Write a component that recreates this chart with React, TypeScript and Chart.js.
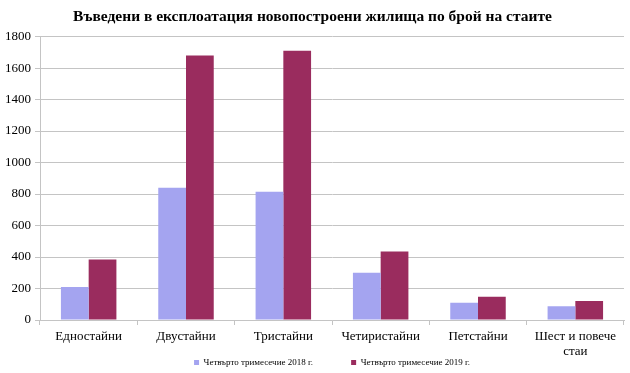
import React, { useEffect, useRef } from "react";
import { Chart, registerables } from "chart.js";

Chart.register(...registerables);

const TITLE = "Въведени в експлоатация новопостроени жилища по брой на стаите";
const categories: (string | string[])[] = [
  "Едностайни",
  "Двустайни",
  "Тристайни",
  "Четиристайни",
  "Петстайни",
  ["Шест и повече", "стаи"],
];
const seriesNames = ["Четвърто тримесечие 2018 г.", "Четвърто тримесечие 2019 г."];
const values2018 = [210, 840, 815, 300, 110, 88];
const values2019 = [385, 1680, 1710, 435, 147, 121];
const yTicks = [0, 200, 400, 600, 800, 1000, 1200, 1400, 1600, 1800];

const SERIF = "'Liberation Serif', 'Times New Roman', serif";
const COLOR_2018 = "#A4A4F0";
const COLOR_2019 = "#9A2C5E";
const GRID = "#C4C4C4";
// invisible trailing spaces widen the first legend item to match the reference spacing
const LEGEND_GAP = "                 ";

export default function App() {
  const ref = useRef<HTMLCanvasElement | null>(null);

  useEffect(() => {
    if (!ref.current) return;
    const chart = new Chart(ref.current, {
      type: "bar",
      data: {
        labels: categories,
        datasets: [
          {
            label: seriesNames[0] + LEGEND_GAP,
            data: values2018,
            backgroundColor: COLOR_2018,
            borderWidth: 0,
            categoryPercentage: 0.57,
            barPercentage: 1,
          },
          {
            label: seriesNames[1],
            data: values2019,
            backgroundColor: COLOR_2019,
            borderWidth: 0,
            categoryPercentage: 0.57,
            barPercentage: 1,
          },
        ],
      },
      options: {
        animation: false,
        responsive: false,
        maintainAspectRatio: false,
        layout: { padding: { left: 1, right: 6, top: 0, bottom: -4 } },
        plugins: {
          title: {
            display: true,
            text: TITLE,
            color: "#000",
            font: { family: SERIF, size: 15.5, weight: "bold" },
            padding: { top: 8, bottom: 10 },
          },
          legend: {
            position: "bottom",
            fullSize: false,
            labels: {
              boxWidth: 5,
              boxHeight: 5,
              padding: 0,
              color: "#000",
              font: { family: SERIF, size: 9 },
            },
          },
          tooltip: { enabled: false },
        },
        scales: {
          x: {
            grid: {
              offset: true,
              drawOnChartArea: false,
              drawTicks: true,
              tickLength: 5,
              color: GRID,
            },
            border: { display: true, color: GRID },
            ticks: {
              color: "#000",
              font: { family: SERIF, size: 13, lineHeight: 1.15 },
              padding: 4,
              maxRotation: 0,
              autoSkip: false,
            },
            afterFit: (scale: any) => {
              scale.height = 38;
            },
          },
          y: {
            min: 0,
            max: 1800,
            afterBuildTicks: (scale: any) => {
              scale.ticks = yTicks.map((v) => ({ value: v }));
            },
            grid: {
              color: GRID,
              drawTicks: true,
              tickLength: 5,
            },
            border: { display: true, color: GRID },
            ticks: {
              color: "#000",
              font: { family: SERIF, size: 13 },
              padding: 4,
              callback: (v: any) => String(v),
            },
          },
        },
      },
    });
    return () => chart.destroy();
  }, []);

  return (
    <div style={{ position: "absolute", left: 0, top: 0, width: 630, height: 373, background: "#fff" }}>
      <canvas ref={ref} width={630} height={373} style={{ display: "block", width: 630, height: 373 }} />
    </div>
  );
}
